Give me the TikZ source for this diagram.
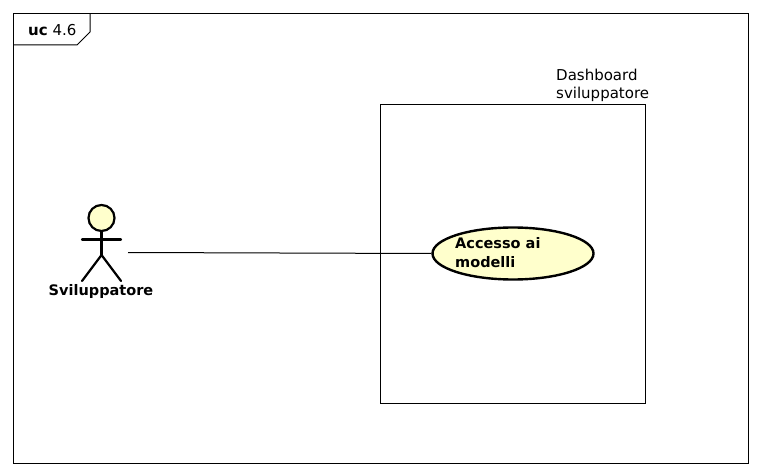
\documentclass[tikz,border=0pt]{standalone}
\usepackage{fontspec}
\setmainfont{DejaVu Sans}
\usetikzlibrary{shapes.geometric}
\definecolor{ucfill}{RGB}{255,255,204}
\tikzset{
  thinline/.style={draw=black,line width=1pt},
  figure/.style={draw=black,line width=2.2pt,line cap=round},
  lbl/.style={inner sep=0pt,align=left,font=\fontsize{15}{18}\selectfont},
  blbl/.style={inner sep=0pt,align=left,font=\fontsize{14.5}{18.5}\selectfont\bfseries},
}
\begin{document}
\begin{tikzpicture}[x=1pt,y=-1pt]
\useasboundingbox (0,0) rectangle (761,476);
\fill[white] (0,0) rectangle (761,476);
\draw[thinline] (13.5,13.5) rectangle (748.5,463.5);
\draw[thinline] (13.5,45) -- (77,45) -- (90,32) -- (90,13.5);
\node[lbl,anchor=base west] (title) at (28,36) {\textbf{uc} 4.6};
\draw[thinline] (380.5,104.5) rectangle (645.5,403.5);
\node[lbl,anchor=north west] (system) at (556,68.5) {Dashboard\\sviluppatore};
\node[ellipse,draw=black,line width=2.4pt,fill=ucfill,minimum width=161pt,minimum height=52pt,inner sep=0pt] (usecase) at (513,253.5) {};
\node[blbl,anchor=north west] (uclabel) at (455,237.5) {Accesso ai\\modelli};
\node[circle,draw=black,line width=2.2pt,fill=ucfill,minimum size=26pt,inner sep=0pt] (head) at (101.5,218) {};
\coordinate (hip) at (101.5,255);
\coordinate (arml) at (82,239.5);
\coordinate (armr) at (121,239.5);
\coordinate (legl) at (82,281);
\coordinate (legr) at (121,281);
\draw[figure] (head.south) -- (hip);
\draw[figure] (arml) -- (armr);
\draw[figure] (legl) -- (hip) -- (legr);
\node[blbl,anchor=base] (actor) at (101,295) {Sviluppatore};
\coordinate (actorend) at (128,252.5);
\draw[thinline] (actorend) -- (usecase.west);
\end{tikzpicture}
\end{document}
